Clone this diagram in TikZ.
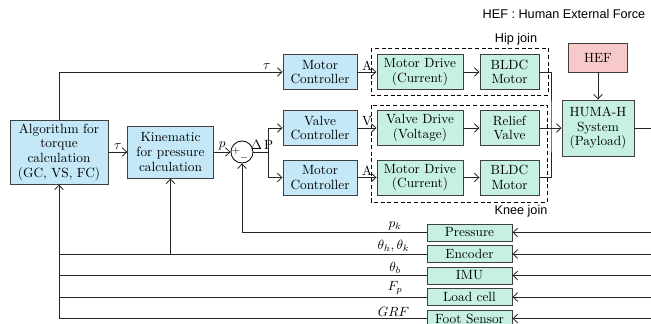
\documentclass[tikz,border=0pt]{standalone}
\usepackage{amsmath}
\usepackage{fontspec}
\newfontfamily\labelsans{Liberation Sans}
\usetikzlibrary{arrows.meta,calc}
\definecolor{ctrlblue}{HTML}{C4E8F8}
\definecolor{drvgreen}{HTML}{C6F1E1}
\definecolor{hefred}{HTML}{F7C9C9}
\definecolor{boxline}{HTML}{404040}
\tikzset{
	blk/.style={draw=boxline, line width=0.7pt, align=center, inner sep=1pt,
			font=\fontsize{10}{11}\selectfont},
	ctrlbox/.style={blk, fill=ctrlblue, minimum width=55.5pt, minimum height=26.25pt},
	drvbox/.style={blk, fill=drvgreen, minimum width=64.5pt, minimum height=26.25pt},
	actbox/.style={blk, fill=drvgreen, minimum width=44.25pt, minimum height=26.25pt},
	sensbox/.style={blk, fill=drvgreen, minimum width=63.75pt, minimum height=12.75pt},
	sumnode/.style={circle, draw=black, line width=0.6pt, minimum size=16.5pt, inner sep=0pt},
	sig/.style={line width=0.6pt, draw=black!85, -{Straight Barb[length=3.5pt,width=6.5pt]}},
	wire/.style={line width=0.6pt, draw=black!85},
	joinbox/.style={dash pattern=on 3pt off 2pt, line width=0.6pt, draw=black},
	siglabel/.style={font=\fontsize{10}{11}\selectfont, inner sep=1.5pt},
	sanslabel/.style={font=\labelsans\fontsize{9.5}{11}\selectfont}
}

\begin{document}
\begin{tikzpicture}[x=0.75pt, y=-0.75pt]
	\useasboundingbox (0,0) rectangle (651,324);

	% Caption and joint frames
	\node[sanslabel, anchor=east] (heflegend) at (650,14) {HEF : Human External Force};
	\draw[joinbox] (371,48) rectangle (548,95);
	\draw[joinbox] (371,105) rectangle (547,202);
	\node[sanslabel] (hiplabel) at (516,39) {Hip join};
	\node[sanslabel] (kneelabel) at (521,211) {Knee join};

	% Computation blocks
	\node[blk, fill=ctrlblue, minimum width=73.5pt, minimum height=48pt] (alg) at (59,152)
	{Algorithm for\\torque\\calculation\\(GC, VS, FC)};
	\node[blk, fill=ctrlblue, minimum width=64pt, minimum height=39pt] (kin) at (170.5,152)
	{Kinematic\\for pressure\\calculation};
	\node[sumnode] (sum) at (242,152) {};
	\node[font=\scriptsize, inner sep=0pt] at ($(sum.center)+(-6,-1)$) {$+$};
	\node[font=\scriptsize, inner sep=0pt] at ($(sum.center)+(2,6)$) {$-$};

	% Controllers
	\node[ctrlbox] (mctrlhip) at (320,72) {Motor\\Controller};
	\node[ctrlbox] (vctrl) at (320,128) {Valve\\Controller};
	\node[ctrlbox] (mctrlknee) at (320,177.5) {Motor\\Controller};

	% Drives and actuators
	\node[drvbox] (mdrvhip) at (420,72) {Motor Drive\\(Current)};
	\node[actbox] (bldchip) at (509.5,72) {BLDC\\Motor};
	\node[drvbox] (vdrv) at (420,128) {Valve Drive\\(Voltage)};
	\node[actbox] (relief) at (509.5,128) {Relief\\Valve};
	\node[drvbox] (mdrvknee) at (420,177.5) {Motor Drive\\(Current)};
	\node[actbox] (bldcknee) at (509.5,177.5) {BLDC\\Motor};

	% Plant
	\node[blk, fill=drvgreen, minimum width=54pt, minimum height=42pt] (huma) at (598,128)
	{HUMA-H\\System\\(Payload)};
	\node[blk, fill=hefred, minimum width=44.25pt, minimum height=21.75pt] (hef) at (598,57.5) {HEF};

	% Sensors
	\node[sensbox] (pres) at (469.5,232.5) {Pressure};
	\node[sensbox] (enc) at (469.5,254) {Encoder};
	\node[sensbox] (imu) at (469.5,275.5) {IMU};
	\node[sensbox] (load) at (469.5,297) {Load cell};
	\node[sensbox] (foot) at (469.5,318.5) {Foot Sensor};

	% Forward path
	\draw[sig] (alg.north) |- (mctrlhip.west) node[siglabel, pos=0.965, above] {$\tau$};
	\draw[sig] (alg.east) -- (kin.west) node[siglabel, midway, above] {$\tau$};
	\draw[sig] (kin.east) -- (sum.west) node[siglabel, midway, above] {$p$};
	\coordinate (split) at (268,152);
	\draw[wire] (sum.east) -- (split) node[siglabel, midway, above, xshift=1pt] {$\Delta\,$P};
	\draw[sig] (split) |- (vctrl.west);
	\draw[sig] (split) |- (mctrlknee.west);

	\draw[sig] (mctrlhip.east) -- (mdrvhip.west) node[siglabel, midway, above, inner sep=1pt] {A};
	\draw[sig] (vctrl.east) -- (vdrv.west) node[siglabel, midway, above, inner sep=1pt] {V};
	\draw[sig] (mctrlknee.east) -- (mdrvknee.west) node[siglabel, midway, above, inner sep=1pt] {A};
	\draw[sig] (mdrvhip.east) -- (bldchip.west);
	\draw[sig] (vdrv.east) -- (relief.west);
	\draw[sig] (mdrvknee.east) -- (bldcknee.west);

	\coordinate (jbus) at (551,128);
	\draw[wire] (bldchip.east) -| (jbus) |- (bldcknee.east);
	\draw[sig] (relief.east) -- (huma.west);
	\draw[sig] (hef.south) -- (huma.north);
	\coordinate (humaout) at (651,128);
	\draw[wire] (huma.east) -- (humaout);

	% Sensor inputs from the right
	\foreach \s in {pres,enc,imu,load,foot}
	\draw[sig] (651,0 |- \s.east) -- (\s.east);

	% Feedback paths
	\draw[sig] (pres.west) -| (sum.south) node[siglabel, pos=0.085, above] {$p_k$};
	\draw[wire] (enc.west) -- (alg.south |- enc.west) node[siglabel, pos=0.09, above] {$\theta_h,\theta_k$};
	\draw[sig] (kin.south |- enc.west) -- (kin.south);
	\draw[wire] (imu.west) -- (alg.south |- imu.west) node[siglabel, pos=0.085, above] {$\theta_b$};
	\draw[wire] (load.west) -- (alg.south |- load.west) node[siglabel, pos=0.085, above] {$F_p$};
	\draw[sig] (foot.west) -| (alg.south) node[siglabel, pos=0.045, above] {$GRF$};
\end{tikzpicture}
\end{document}
